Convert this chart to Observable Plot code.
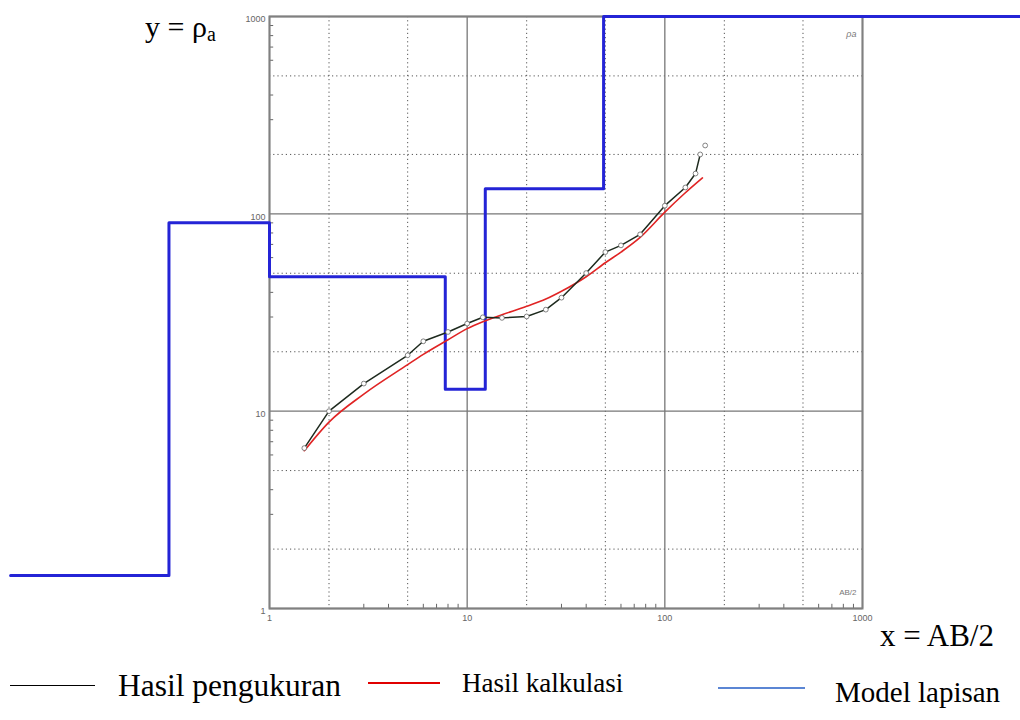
<!DOCTYPE html>
<html>
<head>
<meta charset="utf-8">
<script src="https://cdn.jsdelivr.net/npm/d3@7"></script>
<script src="https://cdn.jsdelivr.net/npm/@observablehq/plot@0.6"></script>
<style>
  html, body { margin: 0; padding: 0; background: #fff; }
  #wrap { position: relative; width: 1020px; height: 720px; overflow: hidden; }
  #chart { position: absolute; left: 0; top: 0; }
  .lbl { position: absolute; font-family: "Liberation Serif", "Times New Roman", serif; color: #000; line-height: 1; white-space: nowrap; }
  .sw { position: absolute; height: 0; }
</style>
</head>
<body>
<div id="wrap">
  <div id="chart"></div>
  <div class="lbl" style="left:145px; top:12px; font-size:30px;">y = ρ<span style="font-size:20px; position:relative; top:4px;">a</span></div>
  <div class="lbl" style="left:880px; top:620px; font-size:31px;">x = AB/2</div>
  <div class="sw" style="left:10px; width:85px; top:685px; border-top:1.5px solid #000;"></div>
  <div class="lbl" style="left:118px; top:670px; font-size:31.5px;">Hasil pengukuran</div>
  <div class="sw" style="left:368px; width:72px; top:682px; border-top:2px solid #e00000;"></div>
  <div class="lbl" style="left:462px; top:670px; font-size:27px;">Hasil kalkulasi</div>
  <div class="sw" style="left:718px; width:87px; top:687px; border-top:2px solid #5b86d4;"></div>
  <div class="lbl" style="left:835px; top:678px; font-size:29px;">Model lapisan</div>
</div>
<script>
// Measured apparent resistivity (AB/2, rho_a)
const measX = [1.5, 2, 3, 5, 6, 8, 10, 12, 15, 20, 25, 30, 40, 50, 60, 75, 100, 127, 143, 151, 160];
const measY = [6.5, 10, 13.8, 19.2, 22.6, 25.2, 27.8, 29.9, 29.7, 30.2, 32.7, 37.6, 50.1, 64, 69.2, 78.7, 110, 136, 160, 200, 222];

// Calculated curve
const calcX = [1.5, 2, 3, 5, 6, 8, 10, 12, 15, 20, 25, 30, 40, 50, 60, 75, 100, 125, 155];
const calcY = [6.3, 8.8, 12.2, 17.2, 19.4, 23.0, 26.2, 28.4, 30.8, 34.0, 37.0, 40.5, 48.0, 56.5, 64.0, 76.0, 102, 126, 152];

// Layer model (step): x breakpoints and resistivities
const modelX = [0.049, 0.31, 1, 7.75, 12.35, 49, 6500];
const modelY = [1.47, 90, 48, 12.9, 134, 1000, 1000];

// Axis ticks
const decadeTicks = [1, 10, 100, 1000];
const dottedTicks = [2, 5, 20, 50, 200, 500];
const minorTicks = [3, 4, 6, 7, 8, 9, 30, 40, 60, 70, 80, 90, 300, 400, 600, 700, 800, 900];

const meas = measX.map((x, i) => ({x, y: measY[i]}));
const calc = calcX.map((x, i) => ({x, y: calcY[i]}));
const model = modelX.map((x, i) => ({x, y: modelY[i]}));

const chart = Plot.plot({
  width: 1020,
  height: 650,
  marginLeft: 269,
  marginRight: 158,
  marginTop: 16,
  marginBottom: 42,
  style: {background: "transparent", fontFamily: "Liberation Sans, Arial, sans-serif"},
  x: {type: "log", domain: [1, 1000], axis: null},
  y: {type: "log", domain: [1, 1000], axis: null},
  marks: [
    Plot.ruleX(dottedTicks, {stroke: "#555", strokeWidth: 1, strokeDasharray: "1.2,3"}),
    Plot.ruleY(dottedTicks, {stroke: "#555", strokeWidth: 1, strokeDasharray: "1.2,3"}),
    Plot.ruleX(decadeTicks, {stroke: "#777", strokeWidth: 1.3}),
    Plot.ruleY(decadeTicks, {stroke: "#777", strokeWidth: 1.3}),
    Plot.ruleX(minorTicks, {y1: 1, y2: 1.05, stroke: "#666", strokeWidth: 1}),
    Plot.ruleY(minorTicks, {x1: 1, x2: 1.05, stroke: "#666", strokeWidth: 1}),
    Plot.frame({stroke: "#808080", strokeWidth: 2}),
    Plot.axisX(decadeTicks, {label: null, tickSize: 0, tickPadding: 6, fontSize: 9, fill: "#666", tickFormat: d => String(d)}),
    Plot.axisY(decadeTicks, {label: null, tickSize: 0, tickPadding: 4, fontSize: 9, fill: "#666", tickFormat: d => String(d), dy: 3}),
    Plot.text(["ρa"], {frameAnchor: "top-right", dx: -6, dy: 14, fontSize: 9, fontStyle: "italic", fill: "#777"}),
    Plot.text(["AB/2"], {frameAnchor: "bottom-right", dx: -6, dy: -14, fontSize: 8, fill: "#777"}),
    Plot.line(model, {x: "x", y: "y", curve: "step-after", stroke: "#2424d6", strokeWidth: 3}),
    Plot.line(calc, {x: "x", y: "y", curve: "monotone-x", stroke: "#e02424", strokeWidth: 1.6}),
    Plot.line(meas.slice(0, meas.length - 1), {x: "x", y: "y", stroke: "#1e2a1e", strokeWidth: 1.5}),
    Plot.dot(meas, {x: "x", y: "y", r: 2.4, fill: "#fff", stroke: "#666", strokeWidth: 0.8})
  ]
});
document.getElementById("chart").appendChild(chart);
</script>
</body>
</html>
